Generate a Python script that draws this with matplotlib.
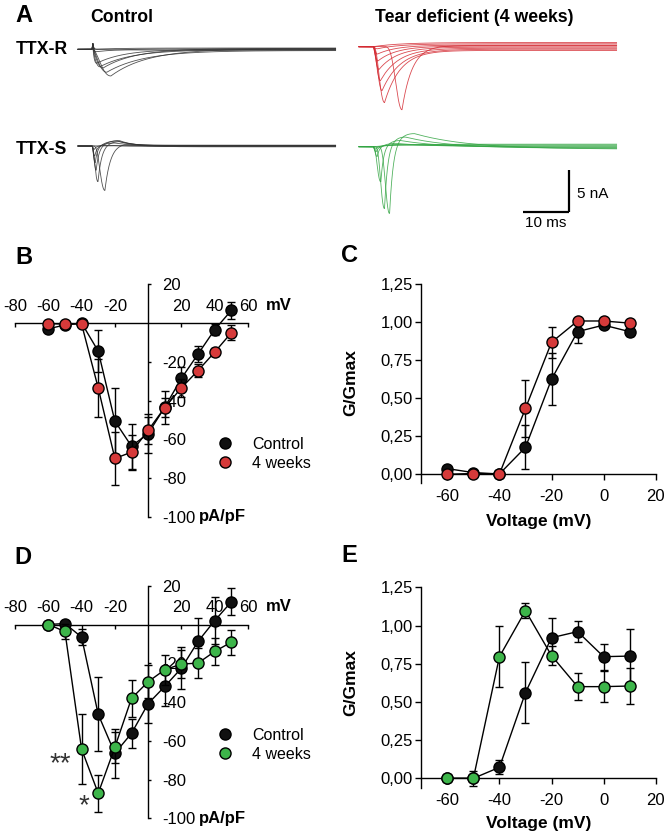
import numpy as np
import matplotlib
matplotlib.use('Agg')
import matplotlib.pyplot as plt
from matplotlib.lines import Line2D

plt.rcParams['font.family'] = ['Liberation Sans', 'DejaVu Sans']

W, H = 668, 840
fig = plt.figure(figsize=(W / 100, H / 100), dpi=100)


def fx(px):
    return px / W


def fy(py):
    return 1 - py / H


# ------------------------------------------------------------------ data
# I-V curves (pA/pF)
voltage_iv = [-60, -50, -40, -30, -20, -10, 0, 10, 20, 30, 40, 50]
ttxr_ctrl = [-3.0, -1.0, 0.0, -14.5, -50.6, -63.5, -57.0, -43.4, -28.5, -16.0, -3.4, 6.5]
ttxr_ctrl_err = [0, 0, 0, 11, 17, 11.5, 10, 8.6, 5.7, 4.3, 3, 4.3]
ttxr_4w = [-0.3, -0.6, -0.5, -33.5, -69.8, -66.6, -55.3, -43.6, -33.4, -24.5, -15.0, -5.0]
ttxr_4w_err = [0, 0, 0, 15, 13.7, 9, 7, 5, 4.5, 3.5, 2, 4]

ttxs_ctrl = [0.0, 0.5, -6.5, -46.3, -66.4, -56.1, -40.8, -31.9, -22.5, -8.7, 2.0, 11.7]
ttxs_ctrl_err = [0, 0, 4, 19, 12.6, 7.5, 10, 10, 11, 12, 12, 7]
ttxs_4w = [0.0, -3.6, -64.2, -87.0, -63.3, -38.1, -29.5, -23.3, -20.4, -19.9, -13.9, -9.1]
ttxs_4w_err = [0, 3.7, 18, 9.5, 8, 9.5, 8.5, 7.7, 7, 7.7, 7, 6.5]

# Conductance curves (G/Gmax)
voltage_g = [-60, -50, -40, -30, -20, -10, 0, 10]
gr_ctrl = [0.037, 0.011, 0.002, 0.177, 0.624, 0.937, 0.98, 0.937]
gr_ctrl_err = [0, 0, 0, 0.144, 0.17, 0.077, 0.01, 0.03]
gr_4w = [0.0, 0.005, 0.002, 0.433, 0.867, 1.007, 1.007, 0.993]
gr_4w_err = [0, 0, 0, 0.186, 0.10, 0, 0, 0]

gs_ctrl = [0.0, 0.0, 0.072, 0.561, 0.92, 0.96, 0.796, 0.80]
gs_ctrl_err = [0, 0.05, 0.046, 0.20, 0.13, 0.07, 0.085, 0.18]
gs_4w = [0.0, 0.0, 0.796, 1.097, 0.803, 0.60, 0.60, 0.604]
gs_4w_err = [0, 0, 0.20, 0.05, 0.06, 0.09, 0.10, 0.12]

series_labels = ['Control', '4 weeks']
iv_xticks = [-80, -60, -40, -20, 20, 40, 60]
iv_yticks = [20, -20, -40, -60, -80, -100]
g_xticks = [-60, -40, -20, 0, 20]
g_yticks = [0, 0.25, 0.5, 0.75, 1.0, 1.25]

# Example current traces (peak nA, time to peak ms, rise shape,
# decay ms, late outward nA, its time to peak ms, its decay ms, drift nA)
ctrl_r_amp = [0.0, 0.0, 0.3, 1.67, 2.07, 2.26, 2.67, 3.2]
ctrl_r_tpk = [1.0, 1.0, 0.8, 1.0, 1.7, 2.4, 3.2, 4.1]
ctrl_r_k = [1.5, 1.5, 1.5, 1.5, 1.8, 2.0, 2.2, 2.5]
ctrl_r_tau = [5, 5, 5, 6, 7, 7, 8, 8]
ctrl_r_drift = [0.15, -0.1, 0.05, 0.0, -0.05, 0.1, -0.15, 0.05]

ctrl_s_amp = [0.0, 0.4, 1.2, 2.0, 2.9, 4.3, 5.4]
ctrl_s_tpk = [0.5, 0.5, 0.6, 0.7, 0.9, 1.3, 2.8]
ctrl_s_k = [2, 2, 2, 2.5, 3, 3, 6]
ctrl_s_tau = [0.4, 0.4, 0.5, 0.5, 0.6, 0.8, 1.2]
ctrl_s_out = [0.0, 0.1, 0.3, 0.6, 0.7, 0.5, 0.3]
ctrl_s_out_tpk = [4, 4, 5, 5.5, 6, 6, 7]
ctrl_s_out_tau = [3, 3, 3, 3.5, 3.5, 3, 2]
ctrl_s_drift = [0.05, -0.05, 0.1, 0.0, -0.1, 0.05, 0.0]

tear_r_amp = [0.0, 0.3, 0.9, 1.7, 2.7, 4.0, 5.15, 6.5, 7.6]
tear_r_tpk = [1.0, 1.0, 1.0, 1.1, 1.3, 1.6, 1.96, 2.5, 6.3]
tear_r_k = [2, 2, 2, 2, 2.5, 3, 3.5, 4, 20]
tear_r_tau = [4, 4, 4, 4, 4, 4, 4, 3.5, 2.2]
tear_r_drift = [0.5, 0.35, 0.2, 0.08, -0.05, -0.18, -0.3, -0.45, 0.15]

tear_s_amp = [0.0, 0.3, 0.6, 1.2, 4.3, 7.7, 8.5]
tear_s_tpk = [0.6, 0.6, 0.7, 0.9, 1.7, 2.5, 3.6]
tear_s_k = [2, 2, 2, 3, 4, 8, 15]
tear_s_tau = [0.4, 0.4, 0.5, 0.5, 0.6, 0.7, 0.8]
tear_s_out = [0.0, 0.1, 0.2, 0.4, 0.8, 1.3, 1.8]
tear_s_out_tpk = [5, 5, 5, 5, 6, 7, 9]
tear_s_out_tau = [8, 8, 8, 8, 9, 10, 12]
tear_s_drift = [0.3, 0.2, 0.1, 0.0, -0.1, -0.2, -0.3]

trace_ms = 56.0
stim_ms = 3.05
scale_ms = 10
scale_nA = 5

RED = '#d63a3a'
GREEN = '#3db54a'
BLACK = '#111111'


# ------------------------------------------------------------------ panel A
def pulse(t, amp, tpk, k, tau):
    out = np.zeros_like(t)
    pos = t > 0
    tt = t[pos]
    rise = (tt / tpk) ** k * np.exp(k * (1 - tt / tpk))
    dec = np.exp(-(tt - tpk) / tau)
    out[pos] = amp * np.where(tt < tpk, rise, dec)
    return out


axA = fig.add_axes([0, fy(235), 1, 235 / H])
axA.set_xlim(0, W / 4.6)
axA.set_ylim(-235 / 8.4, 0)
axA.axis('off')

t = np.linspace(0, trace_ms, 5000)
ts = t - stim_ms


def draw_group(x0, base, amps, tpks, ks, taus, drift, color,
               outs=None, out_tpk=None, out_tau=None, artifact=0.0):
    for i in range(len(amps)):
        y = -pulse(ts, amps[i], tpks[i], ks[i], taus[i])
        if outs is not None:
            y = y + pulse(ts, outs[i], out_tpk[i], 3.0, out_tau[i])
        y = y + drift[i] * (1 - np.exp(-np.clip(ts, 0, None) / 6.0))
        if artifact:
            y = y + pulse(ts, artifact, 0.2, 2.0, 0.15)
        axA.plot(x0 + t, base + y, color=color, lw=0.6, alpha=0.85)


ctrl_x0 = 78 / 4.6
tear_x0 = 359 / 4.6
draw_group(ctrl_x0, -49.3 / 8.4, ctrl_r_amp, ctrl_r_tpk, ctrl_r_k, ctrl_r_tau,
           ctrl_r_drift, '#333333', artifact=0.7)
draw_group(ctrl_x0, -146.0 / 8.4, ctrl_s_amp, ctrl_s_tpk, ctrl_s_k, ctrl_s_tau,
           ctrl_s_drift, '#333333', ctrl_s_out, ctrl_s_out_tpk, ctrl_s_out_tau)
draw_group(tear_x0, -46.7 / 8.4, tear_r_amp, tear_r_tpk, tear_r_k, tear_r_tau,
           tear_r_drift, '#d42a32')
draw_group(tear_x0, -146.7 / 8.4, tear_s_amp, tear_s_tpk, tear_s_k, tear_s_tau,
           tear_s_drift, '#33a543', tear_s_out, tear_s_out_tpk, tear_s_out_tau)

# scale bar
sb_x1 = 568.5 / 4.6
sb_y0 = -212 / 8.4
axA.plot([sb_x1 - scale_ms, sb_x1], [sb_y0, sb_y0], color='black', lw=1.6,
         solid_capstyle='butt')
axA.plot([sb_x1, sb_x1], [sb_y0, sb_y0 + scale_nA], color='black', lw=1.6,
         solid_capstyle='butt')
axA.text(sb_x1 + 1.8, sb_y0 + scale_nA / 2 - 0.4, f'{scale_nA} nA', fontsize=11,
         ha='left', va='center')
axA.text(sb_x1 - scale_ms / 2, sb_y0 - 0.45, f'{scale_ms} ms', fontsize=11,
         ha='center', va='top')

fig.text(fx(15), fy(15), 'A', fontsize=17, fontweight='bold', ha='left', va='center')
fig.text(fx(122), fy(18), 'Control', fontsize=12.7, fontweight='bold',
         ha='center', va='center')
fig.text(fx(474), fy(18), 'Tear deficient (4 weeks)', fontsize=12.7,
         fontweight='bold', ha='center', va='center')
fig.text(fx(16), fy(50), 'TTX-R', fontsize=12.7, fontweight='bold', ha='left', va='center')
fig.text(fx(16), fy(149), 'TTX-S', fontsize=12.7, fontweight='bold', ha='left', va='center')


# ------------------------------------------------------------------ helpers
def plot_series(ax, x, y, err, face, z):
    ax.errorbar(x, y, yerr=err, fmt='-o', color='black', ecolor='black',
                elinewidth=1.0, capsize=3.2, capthick=1.0, lw=1.0,
                ms=8, mfc=face, mec='black', mew=1.0, zorder=z, clip_on=False)


def iv_axes(top, bottom, x, c_y, c_e, t_y, t_e, tcolor, leg_y, mv_y):
    ax = fig.add_axes([fx(15), fy(bottom), 233 / W, (bottom - top) / H])
    ax.set_xlim(-80, 60)
    ax.set_ylim(-100, 20)
    ax.patch.set_visible(False)
    ax.set_axisbelow(True)
    for s in ['left', 'bottom']:
        ax.spines[s].set_visible(False)
    ax.spines['top'].set_position(('data', 0))
    ax.spines['right'].set_position(('data', 0))
    for s in ['top', 'right']:
        ax.spines[s].set_linewidth(1.0)
        ax.spines[s].set_zorder(0.5)
    ax.xaxis.tick_top()
    ax.yaxis.tick_right()
    ax.set_xticks(iv_xticks)
    ax.set_xticklabels([str(v) for v in iv_xticks])
    ax.set_yticks(iv_yticks)
    ax.set_yticklabels([str(v) for v in iv_yticks])
    ax.tick_params(axis='x', direction='in', length=3, width=1.0, pad=6.5,
                   labelsize=12)
    ax.tick_params(axis='y', direction='out', length=2.5, width=1.0, pad=7.5,
                   labelsize=12)
    plot_series(ax, x, c_y, c_e, BLACK, 3)
    plot_series(ax, x, t_y, t_e, tcolor, 4)
    handles = [Line2D([], [], ls='none', marker='o', ms=8, mfc=BLACK, mec='black',
                      mew=1.0, label=series_labels[0]),
               Line2D([], [], ls='none', marker='o', ms=8, mfc=tcolor, mec='black',
                      mew=1.0, label=series_labels[1])]
    ax.legend(handles=handles, loc='upper left',
              bbox_to_anchor=(fx(212), fy(leg_y)), bbox_transform=fig.transFigure,
              frameon=False, handlelength=1.6, handletextpad=0.9, labelspacing=0.25,
              borderpad=0, borderaxespad=0, fontsize=11.5)
    fig.text(fx(266), fy(mv_y), 'mV', fontsize=12, fontweight='bold',
             ha='left', va='center')
    fig.text(fx(199), fy(bottom), 'pA/pF', fontsize=12, fontweight='bold',
             ha='left', va='center')
    return ax


def g_axes(top, bottom, x, c_y, c_e, t_y, t_e, tcolor, ylab_y, xlab_y):
    ax = fig.add_axes([fx(421.3), fy(bottom), (655.7 - 421.3) / W, (bottom - top) / H])
    ax.set_xlim(-70, 20)
    ax.set_ylim(-0.06, 1.25)
    ax.patch.set_visible(False)
    ax.set_axisbelow(True)
    for s in ['top', 'right']:
        ax.spines[s].set_visible(False)
    ax.spines['bottom'].set_position(('data', 0))
    for s in ['left', 'bottom']:
        ax.spines[s].set_linewidth(1.0)
    ax.set_xticks(g_xticks)
    ax.set_xticklabels([str(v) for v in g_xticks])
    ax.set_yticks(g_yticks)
    ax.set_yticklabels([f'{v:.2f}'.replace('.', ',') for v in g_yticks])
    ax.tick_params(axis='x', direction='out', length=4, width=1.0, pad=6.5, labelsize=12)
    ax.tick_params(axis='y', direction='out', length=4.5, width=1.0, pad=1.5, labelsize=12)
    plot_series(ax, x, c_y, c_e, BLACK, 3)
    plot_series(ax, x, t_y, t_e, tcolor, 4)
    fig.text(fx(351), fy(ylab_y), 'G/Gmax', rotation=90, fontsize=12.5,
             fontweight='bold', ha='center', va='center')
    fig.text(fx(538.5), fy(xlab_y), 'Voltage (mV)', fontsize=12.5,
             fontweight='bold', ha='center', va='center')
    return ax


# ------------------------------------------------------------------ panels B-E
axB = iv_axes(284.2, 517.0, voltage_iv, ttxr_ctrl, ttxr_ctrl_err, ttxr_4w, ttxr_4w_err,
              RED, 437, 305)
axD = iv_axes(585.7, 818.5, voltage_iv, ttxs_ctrl, ttxs_ctrl_err, ttxs_4w, ttxs_4w_err,
              GREEN, 728, 606.7)
axC = g_axes(284.0, 483.4, voltage_g, gr_ctrl, gr_ctrl_err, gr_4w, gr_4w_err,
             RED, 383, 521.5)
axE = g_axes(587.3, 787.5, voltage_g, gs_ctrl, gs_ctrl_err, gs_4w, gs_4w_err,
             GREEN, 683, 823.3)

fig.text(fx(15), fy(258), 'B', fontsize=17, fontweight='bold', ha='left', va='center')
fig.text(fx(341), fy(256), 'C', fontsize=17, fontweight='bold', ha='left', va='center')
fig.text(fx(14), fy(558), 'D', fontsize=17, fontweight='bold', ha='left', va='center')
fig.text(fx(341), fy(556), 'E', fontsize=17, fontweight='bold', ha='left', va='center')

# significance marks
fig.text(fx(60), fy(764), '**', fontsize=20, color='#333333', ha='center', va='center')
fig.text(fx(84), fy(806), '*', fontsize=20, color='#333333', ha='center', va='center')

fig.savefig('out.png', dpi=100)
